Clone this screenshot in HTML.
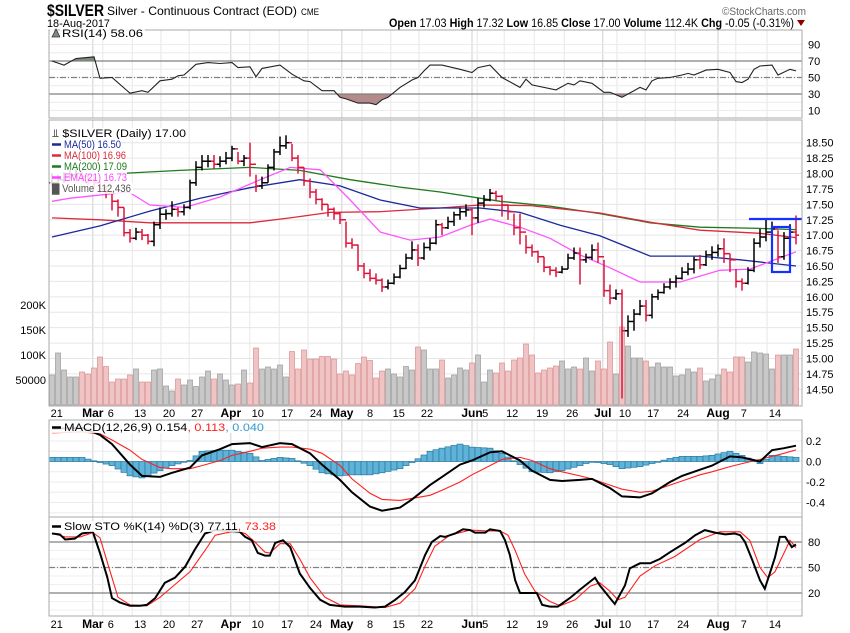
<!DOCTYPE html>
<html><head><meta charset="utf-8"><style>
html,body{margin:0;padding:0;background:#fff;}
svg{display:block;font-family:"Liberation Sans",Arial,sans-serif;}
</style></head><body>
<svg id="chart" width="850" height="633" viewBox="0 0 850 633" xmlns="http://www.w3.org/2000/svg">
<text x="47" y="16" font-size="17" font-weight="bold" textLength="57" lengthAdjust="spacingAndGlyphs">$SILVER</text>
<text x="107" y="15" font-size="12" textLength="190" lengthAdjust="spacingAndGlyphs">Silver - Continuous Contract (EOD)</text>
<text x="301" y="15" font-size="9" textLength="18" lengthAdjust="spacingAndGlyphs">CME</text>
<text x="47" y="27" font-size="11" textLength="63" lengthAdjust="spacingAndGlyphs">18-Aug-2017</text>
<text x="722" y="15" font-size="11" fill="#666" textLength="84" lengthAdjust="spacingAndGlyphs">©StockCharts.com</text>
<text x="389" y="27" font-size="11.5" textLength="405" lengthAdjust="spacingAndGlyphs"><tspan font-weight="bold">Open</tspan> 17.03 <tspan font-weight="bold">High</tspan> 17.32 <tspan font-weight="bold">Low</tspan> 16.85 <tspan font-weight="bold">Close</tspan> 17.00 <tspan font-weight="bold">Volume</tspan> 112.4K <tspan font-weight="bold">Chg</tspan> -0.05 (-0.31%)</text>
<polygon points="797,20 805,20 801,26" fill="#8b0000"/>
<g id="layer"></g>
</svg>
<script>
// ---------- data ----------
const closes=[17.85,17.9,17.95,17.98,18.0,17.95,17.9,17.85,17.75,17.68,17.55,17.45,17.04,16.95,17.05,17.0,16.9,17.17,17.34,17.35,
17.42,17.38,17.45,17.85,18.1,18.2,18.2,18.15,18.2,18.25,18.4,18.2,18.25,18.15,17.8,17.85,18.1,18.35,18.45,18.5,
18.25,18.1,17.88,17.7,17.58,17.5,17.42,17.35,17.25,16.87,16.84,16.5,16.38,16.3,16.27,16.16,16.22,16.32,16.46,16.63,
16.76,16.63,16.8,16.87,17.17,17.12,17.22,17.33,17.38,17.41,17.28,17.52,17.57,17.68,17.63,17.49,17.38,17.12,17.05,16.8,
16.73,16.65,16.48,16.43,16.4,16.45,16.63,16.71,16.6,16.64,16.76,16.65,16.1,15.98,16.05,15.45,15.6,15.72,15.85,15.7,
16.0,16.07,16.16,16.24,16.3,16.4,16.45,16.6,16.52,16.68,16.72,16.78,16.7,16.6,16.25,16.22,16.43,16.87,16.97,17.05,
17.1,16.65,16.95,17.05,17.0];
const highs=[18.0,17.98,18.02,18.05,18.08,18.05,18.0,17.95,17.88,17.8,17.72,17.58,17.45,17.1,17.12,17.1,17.02,17.22,17.45,17.42,
17.55,17.45,17.5,17.9,18.2,18.3,18.3,18.3,18.28,18.35,18.45,18.35,18.3,18.5,17.98,17.95,18.15,18.4,18.6,18.62,
18.48,18.3,18.1,17.92,17.75,17.6,17.5,17.45,17.38,17.22,16.95,16.85,16.55,16.45,16.38,16.3,16.28,16.38,16.52,16.7,
16.9,16.85,16.88,16.95,17.25,17.2,17.3,17.38,17.45,17.5,17.45,17.6,17.65,17.75,17.72,17.65,17.5,17.35,17.35,17.0,
16.85,16.75,16.65,16.5,16.48,16.5,16.7,16.8,16.8,16.7,16.85,16.88,16.6,16.2,16.12,16.12,15.7,15.8,15.95,15.95,
16.05,16.12,16.22,16.3,16.35,16.48,16.55,16.65,16.68,16.75,16.82,16.85,16.95,16.7,16.45,16.3,16.48,16.95,17.1,17.25,
17.22,17.08,17.05,17.18,17.32];
const lows=[17.8,17.8,17.85,17.9,17.92,17.88,17.82,17.78,17.68,17.6,17.4,17.3,16.98,16.88,16.92,16.92,16.85,16.82,17.1,17.25,
17.3,17.3,17.32,17.42,17.8,18.05,18.1,18.08,18.1,18.15,18.2,18.15,18.12,17.95,17.7,17.75,17.85,18.05,18.3,18.4,
18.2,18.0,17.8,17.6,17.5,17.4,17.3,17.25,17.18,16.8,16.78,16.42,16.3,16.25,16.2,16.08,16.12,16.2,16.3,16.45,
16.6,16.5,16.6,16.75,16.85,17.0,17.1,17.15,17.25,17.3,17.0,17.2,17.45,17.55,17.55,17.3,17.25,17.0,16.85,16.7,
16.65,16.55,16.4,16.35,16.32,16.38,16.45,16.6,16.2,16.55,16.6,16.55,16.0,15.88,15.95,14.35,15.35,15.45,15.7,15.6,
15.65,15.95,16.05,16.12,16.15,16.28,16.35,16.38,16.45,16.5,16.6,16.65,16.55,16.4,16.15,16.1,16.2,16.4,16.8,16.9,
16.98,16.55,16.6,16.85,16.85];
const volumesK=[60,104,70,56,56,66,62,74,96,77,46,52,52,60,72,46,46,70,72,38,
28,52,40,50,37,56,68,52,62,50,40,42,70,44,114,72,76,72,80,56,
107,72,110,92,92,97,97,92,62,68,60,83,96,89,54,68,72,62,56,77,
70,116,110,72,72,90,54,60,74,70,84,100,46,70,64,84,68,90,94,122,
100,64,70,74,78,88,72,76,72,94,68,88,72,126,62,156,118,94,94,88,
76,84,76,76,58,60,72,66,74,48,52,60,72,66,96,96,86,106,104,102,
72,100,100,100,112];
const ma50Idx=[0,8,16.3,24.7,33,41.3,48,54.7,61.3,71.3,78,84.7,91.3,99.7,108,114.7,124];
const ma50Val=[16.97,17.15,17.39,17.6,17.77,17.9,17.8,17.57,17.44,17.44,17.37,17.16,16.99,16.66,16.66,16.6,16.5];
const ma100Idx=[0,8,16.3,33,39.7,46.3,54.7,64.7,71.3,79.7,91.3,99.7,108,118,124];
const ma100Val=[17.28,17.25,17.2,17.2,17.28,17.37,17.38,17.44,17.49,17.48,17.36,17.21,17.08,17.03,16.96];
const ma200Idx=[11.3,21.3,33,41.3,49.7,58,64.7,74.7,83,91.3,99.7,108,118,124];
const ma200Val=[18.0,18.05,18.1,18.05,17.9,17.78,17.7,17.55,17.47,17.35,17.2,17.13,17.11,17.09];
const emaIdx=[0,3,12.8,16.3,22.2,28,34.7,39.7,44.7,49.7,54.7,59.7,64.7,69.7,73,78,83,88,93,98,104.7,111.3,116.3,124];
const emaVal=[17.55,17.6,17.7,17.49,17.45,17.62,17.9,18.1,18.06,17.57,17.05,16.92,16.97,17.16,17.26,17.13,16.95,16.68,16.47,16.24,16.24,16.43,16.45,16.73];
const rsiIdx=[0,2,4,7,8,10,13,15,16,18,20,21,22,24,26,28,30,31,33,34,35,38,40,42,43,45,47,48,49,51,53,54,55,56,58,60,61,62,63,65,68,70,71,73,75,78,79,80,84,86,87,88,90,92,93,95,96,98,99,100,101,103,105,106,107,109,111,113,114,115,116,117,118,120,121,123,124];
const rsiVal=[70,65,73,75,49,50,31,34,32,46,48,52,53,66,68,67,68,62,63,51,61,65,54,46,45,34,34,26,24,19,19,17,23,26,38,47,50,58,65,65,60,56,62,65,50,38,48,41,35,43,41,46,43,32,32,26,30,38,35,46,49,50,53,55,53,59,60,56,45,44,48,60,64,65,53,60,58];
const macdIdx=[0,5,8,10,13,15,18,20,23,25,28,30,33,35,38,40,43,45,48,50,53,55,58,60,63,65,68,70,73,75,78,80,83,85,88,90,93,95,98,100,103,105,108,110,113,115,118,120,122,124];
const macdVal=[0.32,0.33,0.26,0.17,-0.03,-0.14,-0.15,-0.11,-0.06,0.06,0.12,0.17,0.18,0.14,0.18,0.17,0.08,-0.03,-0.18,-0.3,-0.44,-0.48,-0.45,-0.37,-0.23,-0.15,-0.03,0.01,0.09,0.1,0.01,-0.09,-0.18,-0.19,-0.18,-0.17,-0.26,-0.34,-0.35,-0.31,-0.2,-0.14,-0.08,-0.04,0.05,0.04,0.0,0.11,0.13,0.154];
const signalVal=[0.28,0.29,0.27,0.21,0.11,0.02,-0.06,-0.07,-0.07,-0.04,0.01,0.06,0.1,0.13,0.14,0.14,0.12,0.08,-0.04,-0.17,-0.31,-0.37,-0.38,-0.36,-0.33,-0.28,-0.2,-0.13,-0.04,0.02,0.04,0.01,-0.07,-0.1,-0.14,-0.17,-0.23,-0.27,-0.3,-0.29,-0.23,-0.19,-0.13,-0.1,-0.05,-0.02,0.02,0.05,0.08,0.113];
const stoKIdx=[0,1.3,2.2,3.8,5,6.8,8,9.2,10,11.3,13,14.7,15.8,17.2,18.8,20.5,22.2,23.8,25.5,27.2,29.7,31.3,32.2,33.3,34.3,35.5,36.3,37.2,38.5,39.7,41.3,43,44.7,46.3,48.8,51.3,53.8,55.5,57.2,58.8,60.5,62.2,63.3,64.7,65.5,67.2,68.5,69.7,70.5,72.2,73,74.7,75.5,76.3,77.2,78,79.7,80.8,81.7,83,84.3,86.3,88,90.5,91.3,93,93.8,95.5,96.3,98,99.7,101.3,103,105.5,107.2,108.8,110.5,112.2,113.8,114.7,115.5,116.7,118,118.8,120.5,121.3,122.2,123.3,124];
const stoKVal=[90,89,83,84,90,92,67,39,14,9,5,5,6,14,32,38,51,71,90,94,93,92,86,82,67,64,64,79,82,74,43,26,12,6,4,4,3,4,12,21,35,65,80,87,86,90,95,94,91,91,95,93,82,65,35,20,20,20,6,4,4,14,24,38,29,14,7,29,49,55,55,60,68,79,88,94,91,89,90,88,80,59,35,25,62,86,86,74,77.11];
const stoDIdx=[0,2.2,4.7,6.8,8,9.7,11,13,15.8,18,20.5,23,25.5,27.2,30.5,32.2,33.8,35.5,36.3,38,39.7,41.3,43,45.5,48,51.3,55.5,58,60.5,62.2,63.8,66.3,69.7,73,74.7,76,77.2,78.8,80.5,83,84.7,87.2,89.7,91.3,93,94.3,95.5,98,100.5,103.8,108,111.3,114.7,116.3,118,119.3,120.5,122.2,123,124];
const stoDVal=[90,86,86,91,85,45,15,6,5,15,30,45,70,88,93,90,80,68,67,78,78,60,38,15,6,5,3,8,25,52,75,88,94,93,93,88,70,42,22,10,5,12,28,32,22,12,15,40,52,63,83,92,92,82,50,38,45,70,82,73.38];
const priceTicks=[18.5,18.25,18.0,17.75,17.5,17.25,17.0,16.75,16.5,16.25,16.0,15.75,15.5,15.25,15.0,14.75,14.5];
const priceTickLabels=["18.50","18.25","18.00","17.75","17.50","17.25","17.00","16.75","16.50","16.25","16.00","15.75","15.50","15.25","15.00","14.75","14.50"];
const volTicks=[200,150,100,50];
const volTickLabels=["200K","150K","100K","50000"];
const rsiTicks=[90,70,50,30,10];
const macdTicks=[0.2,0,-0.2,-0.4];
const macdTickLabels=["0.2","0.0","-0.2","-0.4"];
const stoTicks=[80,50,20];
const dateIdx=[0.8,6.8,9.8,14.7,19.5,24.2,29.8,34.3,39.2,44,48.3,53,57.8,62.5,70,72.2,76.7,81.7,86.7,91.8,95.5,100.2,105.2,111,115.3,120.5];
const dateLabels=["21","Mar","6","13","20","27","Apr","10","17","24","May","8","15","22","Jun","5","12","19","26","Jul","10","17","24","Aug","7","14"];
const dateIsMonth=[0,1,0,0,0,0,1,0,0,0,1,0,0,0,1,0,0,0,0,1,0,0,0,1,0,0];

const L=49,R=802;
const X=i=>52+6*i;
const PY=p=>142.7+(18.5-p)*61.65;
const VY=v=>405-v*0.5;
const RY=v=>61+(70-v)*0.825;
const MY=v=>461.5-v*102.5;
const SY=v=>610-v*0.85;
const NS="http://www.w3.org/2000/svg";
const layer=document.getElementById('layer');
function mk(tag,attrs,parent){const e=document.createElementNS(NS,tag);for(const k in attrs)e.setAttribute(k,attrs[k]);(parent||layer).appendChild(e);return e;}
function interp(idx,val,i){if(i<=idx[0])return val[0];for(let k=1;k<idx.length;k++){if(i<=idx[k]){const t=(i-idx[k-1])/(idx[k]-idx[k-1]);return val[k-1]+t*(val[k]-val[k-1]);}}return val[val.length-1];}
function pathOf(idx,val,yf){return idx.map((ii,k)=>(k?'L':'M')+X(ii).toFixed(1)+','+yf(val[k]).toFixed(1)).join('');}

const panels=[[30,118],[120,406],[420,517],[517,616]];
dateIdx.forEach((d,k)=>{
  const gx=dateIsMonth[k]?X(d):X(d)-8;
  if(gx<L+1)return;
  panels.forEach(p=>{
    const ln=mk('line',{x1:gx,x2:gx,y1:p[0],y2:p[1],stroke:dateIsMonth[k]?'#cfcfcf':'#e6e6e6','stroke-width':1});
    
    
  });
});
for(let v=10;v<=90;v+=10){const g=mk('line',{x1:L,x2:R,y1:RY(v),y2:RY(v),stroke:'#ececec'});}
priceTicks.forEach(p=>{const g=mk('line',{x1:L,x2:R,y1:PY(p),y2:PY(p),stroke:'#e6e6e6'});});
for(let v=-0.5;v<=0.3;v+=0.1){const g=mk('line',{x1:L,x2:R,y1:MY(v),y2:MY(v),stroke:'#ececec'});}
for(let v=0;v<=100;v+=10){const g=mk('line',{x1:L,x2:R,y1:SY(v),y2:SY(v),stroke:'#efefef'});}

// RSI
const rsiD=pathOf(rsiIdx,rsiVal,RY);
const defs=mk('defs',{});
const c1=mk('clipPath',{id:'above70'},defs);mk('rect',{x:L,y:30,width:R-L,height:RY(70)-30},c1);
const c2=mk('clipPath',{id:'below30'},defs);mk('rect',{x:L,y:RY(30),width:R-L,height:118-RY(30)},c2);
const fa=mk('path',{d:rsiD+'L'+X(124)+','+RY(70)+'L'+X(0)+','+RY(70)+'Z',fill:'#7d8a7d','clip-path':'url(#above70)'});


const fb=mk('path',{d:rsiD+'L'+X(124)+','+RY(30)+'L'+X(0)+','+RY(30)+'Z',fill:'#b58a8a','clip-path':'url(#below30)'});


[[70,'none'],[30,'none'],[50,'6,2,1,2']].forEach(([v,da])=>{const g=mk('line',{x1:L,x2:R,y1:RY(v),y2:RY(v),stroke:'#808080','stroke-width':1.2,'stroke-dasharray':da});});
const rl=mk('path',{d:rsiD,fill:'none',stroke:'#222','stroke-width':1.1});



// volume
volumesK.forEach((v,i)=>{
  const down=i>0&&closes[i]<closes[i-1];
  const b=mk('rect',{x:X(i)-2.5,y:VY(v),width:5,height:405-VY(v),fill:down?'#f0c4c4':'#c8c8c8',stroke:down?'#d98f8f':'#9a9a9a','stroke-width':0.7});
  
  
});
volTicks.forEach((v,k)=>{const t=mk('text',{x:46,y:VY(v)+4,'font-size':11,'text-anchor':'end'});t.textContent=volTickLabels[k];});

[[ma200Idx,ma200Val,'#1e7a1e','ma200-line'],[ma100Idx,ma100Val,'#dc2a3c','ma100-line'],[ma50Idx,ma50Val,'#1a2a9a','ma50-line'],[emaIdx,emaVal,'#ff55ff','ema21-line']].forEach(([ix,vv,col,nm])=>{
  const p=mk('path',{d:pathOf(ix,vv,PY),fill:'none',stroke:col,'stroke-width':1.3});
  
  
});

closes.forEach((c,i)=>{
  const o=i>0?closes[i-1]:c;
  const col=i>0&&c<closes[i-1]?'#dc143c':'#000';
  const g=mk('g',{stroke:col,'stroke-width':1.5});
  
  
  const x=X(i);
  mk('line',{x1:x,x2:x,y1:PY(highs[i]),y2:PY(lows[i])},g);
  mk('line',{x1:x-3,x2:x,y1:PY(o),y2:PY(o)},g);
  mk('line',{x1:x,x2:x+3,y1:PY(c),y2:PY(c)},g);
});

const an1=mk('line',{x1:749,x2:802,y1:219,y2:219,stroke:'#1432ff','stroke-width':2.2});


const an2=mk('rect',{x:772,y:227,width:18,height:45,fill:'none',stroke:'#1432ff','stroke-width':2.2});



priceTicks.forEach((p,k)=>{const t=mk('text',{x:806,y:PY(p)+4,'font-size':11});t.textContent=priceTickLabels[k];});
rsiTicks.forEach(v=>{const t=mk('text',{x:808,y:RY(v)+4,'font-size':11});t.textContent=String(v);});

// MACD
for(let i=0;i<closes.length;i++){
  const h=interp(macdIdx,macdVal,i)-interp(macdIdx,signalVal,i);
  const y0=MY(0),y1=MY(h);
  const b=mk('rect',{x:X(i)-3,y:Math.min(y0,y1),width:6,height:Math.max(0.8,Math.abs(y1-y0)),fill:'#5fb2d8',stroke:'#2a7aa0','stroke-width':0.7});
  
  
}
const sl=mk('path',{d:pathOf(macdIdx,signalVal,MY),fill:'none',stroke:'#ff2020','stroke-width':1.1});


const ml=mk('path',{d:pathOf(macdIdx,macdVal,MY),fill:'none',stroke:'#000','stroke-width':2});


macdTicks.forEach((v,k)=>{const t=mk('text',{x:806,y:MY(v)+4,'font-size':11});t.textContent=macdTickLabels[k];});

// STO
[[80,'none'],[20,'none'],[50,'6,2,1,2']].forEach(([v,da])=>{const g=mk('line',{x1:L,x2:R,y1:SY(v),y2:SY(v),stroke:'#808080','stroke-width':1.2,'stroke-dasharray':da});});
const dl=mk('path',{d:pathOf(stoDIdx,stoDVal,SY),fill:'none',stroke:'#ff2020','stroke-width':1.1});


const kl=mk('path',{d:pathOf(stoKIdx,stoKVal,SY),fill:'none',stroke:'#000','stroke-width':2});


stoTicks.forEach(v=>{const t=mk('text',{x:808,y:SY(v)+4,'font-size':11});t.textContent=String(v);});

// date labels
[413,624].forEach(yy=>{
  dateIdx.forEach((d,k)=>{
    const t=mk('text',{x:X(d),y:yy+4,'font-size':dateIsMonth[k]?12:11,'font-weight':dateIsMonth[k]?'bold':'normal','text-anchor':'middle'});
    t.textContent=dateLabels[k];
    
    
  });
});

panels.forEach(p=>{const r=mk('rect',{x:L,y:p[0],width:R-L,height:p[1]-p[0],fill:'none',stroke:'#a8a8a8','stroke-width':1});});

// legends
function legend(x,y,txt,col,w,name,marker){
  const bg=mk('rect',{x:x-2,y:y-9,width:w+(marker?14:4),height:11,fill:'#fff','fill-opacity':0.85});
  
  
  if(marker){const m=mk('line',{x1:x,x2:x+9,y1:y-3.5,y2:y-3.5,stroke:col,'stroke-width':2.5});}
  const t=mk('text',{x:x+(marker?12:0),y:y,'font-size':11,fill:col,textLength:w,lengthAdjust:'spacingAndGlyphs'});
  t.textContent=txt;
  
  
  return t;
}
legend(52,37,'','#000',0,'rsi-legend-icon-slot',false);
const ri=mk('polygon',{points:'52,37 56,29 60,37',fill:'#7d8a7d',stroke:'#333','stroke-width':0.8});


legend(62,37,'RSI(14) 58.06','#000',81,'rsi-legend',false);
legend(52,137,'\u2AEB $SILVER (Daily) 17.00','#000',134,'price-legend',false);
legend(52,148,'MA(50) 16.50','#1a2a9a',57,'ma50-legend',true);
legend(52,159,'MA(100) 16.96','#dc2a3c',62,'ma100-legend',true);
legend(52,170,'MA(200) 17.09','#1e7a1e',63,'ma200-legend',true);
legend(52,181,'EMA(21) 16.73','#ff44ff',63,'ema21-legend',true);
legend(52,192,'\u2587 Volume 112,436','#555',79,'volume-legend',false);
const mt=legend(52,431,'','#000',200,'macd-legend',true);
[['MACD(12,26,9) 0.154','#000'],[', 0.113','#ff2020'],[', 0.040','#3399cc']].forEach(([s,c])=>{const sp=document.createElementNS(NS,'tspan');sp.setAttribute('fill',c);sp.textContent=s;mt.appendChild(sp);});
const st=legend(52,530,'','#000',212,'sto-legend',true);
[['Slow STO %K(14) %D(3) 77.11','#000'],[', 73.38','#ff2020']].forEach(([s,c])=>{const sp=document.createElementNS(NS,'tspan');sp.setAttribute('fill',c);sp.textContent=s;st.appendChild(sp);});
</script>
</body></html>
